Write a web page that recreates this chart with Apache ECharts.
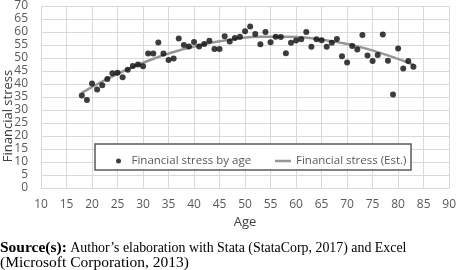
<!DOCTYPE html>
<html>
<head>
<meta charset="utf-8">
<script src="https://cdn.jsdelivr.net/npm/echarts@6/dist/echarts.min.js"></script>
<style>
html,body{margin:0;padding:0;background:#fff;}
#chart{width:459px;height:270px;}
</style>
</head>
<body>
<div id="chart"></div>
<script>
var ages = [18,19,20,21,22,23,24,25,26,27,28,29,30,31,32,33,34,35,36,37,38,39,40,41,42,43,44,45,46,47,48,49,50,51,52,53,54,55,56,57,58,59,60,61,62,63,64,65,66,67,68,69,70,71,72,73,74,75,76,77,78,79,80,81,82,83];
var stress = [35.6,33.8,40.2,37.9,39.5,41.9,44.1,44.3,42.6,45.5,46.9,47.5,46.8,51.7,51.7,56.0,
  51.7,49.2,49.8,57.5,55.0,54.4,56.2,54.4,55.4,56.6,53.5,53.5,58.4,56.3,57.7,58.2,60.3,62.1,59.2,55.3,60.0,56.1,58.2,58.1,51.8,55.9,56.7,57.2,60.0,
  54.3,57.2,56.8,54.3,55.9,57.3,50.7,48.3,54.6,53.3,58.8,51.0,48.8,51.2,59.0,48.9,36.0,53.7,46.0,48.8,46.6];
var estAges = [18,23,28,33,38,43,48,53,58,63,68,73,78,83];
var estStress = [36.6,42.0,46.5,50.4,53.4,55.8,57.3,58.2,58.2,57.6,56.1,54.0,51.0,47.4];
var xTicks = {min:10, max:90, step:5};
var yTicks = {min:0, max:70, step:5};
var seriesNames = ['Financial stress by age','Financial stress (Est.)'];
var xTitle = 'Age';
var yTitle = 'Financial stress';
var sourceBold = 'Source(s):';
var sourceLine1 = ' Author\u2019s elaboration with Stata (StataCorp, 2017) and Excel';
var sourceLine2 = '(Microsoft Corporation, 2013)';

var FONT = '"Open Sans", sans-serif';
var SERIF = '"Liberation Serif", serif';
var chart = echarts.init(document.getElementById('chart'), null, {renderer:'canvas'});
var legendText = {color:'#595959', fontFamily:FONT, fontSize:11.5};
var option = {
  animation:false,
  backgroundColor:'#fff',
  grid:{left:41, right:8, top:5, bottom:82, containLabel:false},
  xAxis:{
    type:'value', min:xTicks.min, max:xTicks.max, interval:xTicks.step,
    axisLine:{show:true, lineStyle:{color:'#d9d9d9'}},
    axisTick:{show:false},
    splitLine:{show:true, lineStyle:{color:'#d9d9d9', width:1}},
    axisLabel:{color:'#595959', fontFamily:FONT, fontSize:12, margin:11, showMinLabel:true, showMaxLabel:true},
    name:xTitle, nameLocation:'middle', nameGap:28,
    nameTextStyle:{color:'#404040', fontFamily:FONT, fontSize:13}
  },
  yAxis:{
    type:'value', min:yTicks.min, max:yTicks.max, interval:yTicks.step,
    axisLine:{show:false},
    axisTick:{show:false},
    splitLine:{show:true, lineStyle:{color:'#d9d9d9', width:1}},
    axisLabel:{color:'#595959', fontFamily:FONT, fontSize:12, margin:13, showMinLabel:true, showMaxLabel:true, hideOverlap:false}
  },
  legend:[
    {left:111, top:150, itemWidth:16, itemHeight:5, textStyle:legendText,
     data:[{name:seriesNames[0], icon:'circle'}], z:5},
    {left:270, top:150, itemWidth:16, itemHeight:2.5, itemGap:0, textStyle:legendText,
     data:[{name:seriesNames[1], icon:'rect'}], z:5}
  ],
  graphic:[
    {type:'rect', z:3, shape:{x:95, y:144, width:316, height:26}, style:{fill:'#fff', stroke:'#595959', lineWidth:1.5}},
    {type:'text', z:5, x:8.5, y:116, rotation:Math.PI/2, style:{text:yTitle, fill:'#404040', font:'13px ' + FONT, align:'center', verticalAlign:'middle'}},
    {type:'text', z:5, x:0, y:248, style:{rich:{b:{fontWeight:'bold', fontFamily:SERIF, fontSize:15.5, fill:'#000'}, n:{fontFamily:SERIF, fontSize:13.9, fill:'#000'}}, text:'{b|' + sourceBold + '}{n|' + sourceLine1 + '}', verticalAlign:'middle'}},
    {type:'text', z:5, x:0, y:263, style:{text:sourceLine2, font:'15.5px ' + SERIF, fill:'#000', verticalAlign:'middle'}}
  ],
  series:[
    {name:seriesNames[0], type:'scatter', symbol:'circle', symbolSize:6,
     itemStyle:{color:'#0d0d0d'},
     data:ages.map(function(a,i){return [a, stress[i]];}), z:3},
    {name:seriesNames[1], type:'line', smooth:true, symbol:'none', showSymbol:false,
     lineStyle:{color:'#969696', width:2.5}, itemStyle:{color:'#969696'},
     data:estAges.map(function(a,i){return [a, estStress[i]];}), z:2}
  ]
};
chart.setOption(option);
</script>
</body>
</html>
